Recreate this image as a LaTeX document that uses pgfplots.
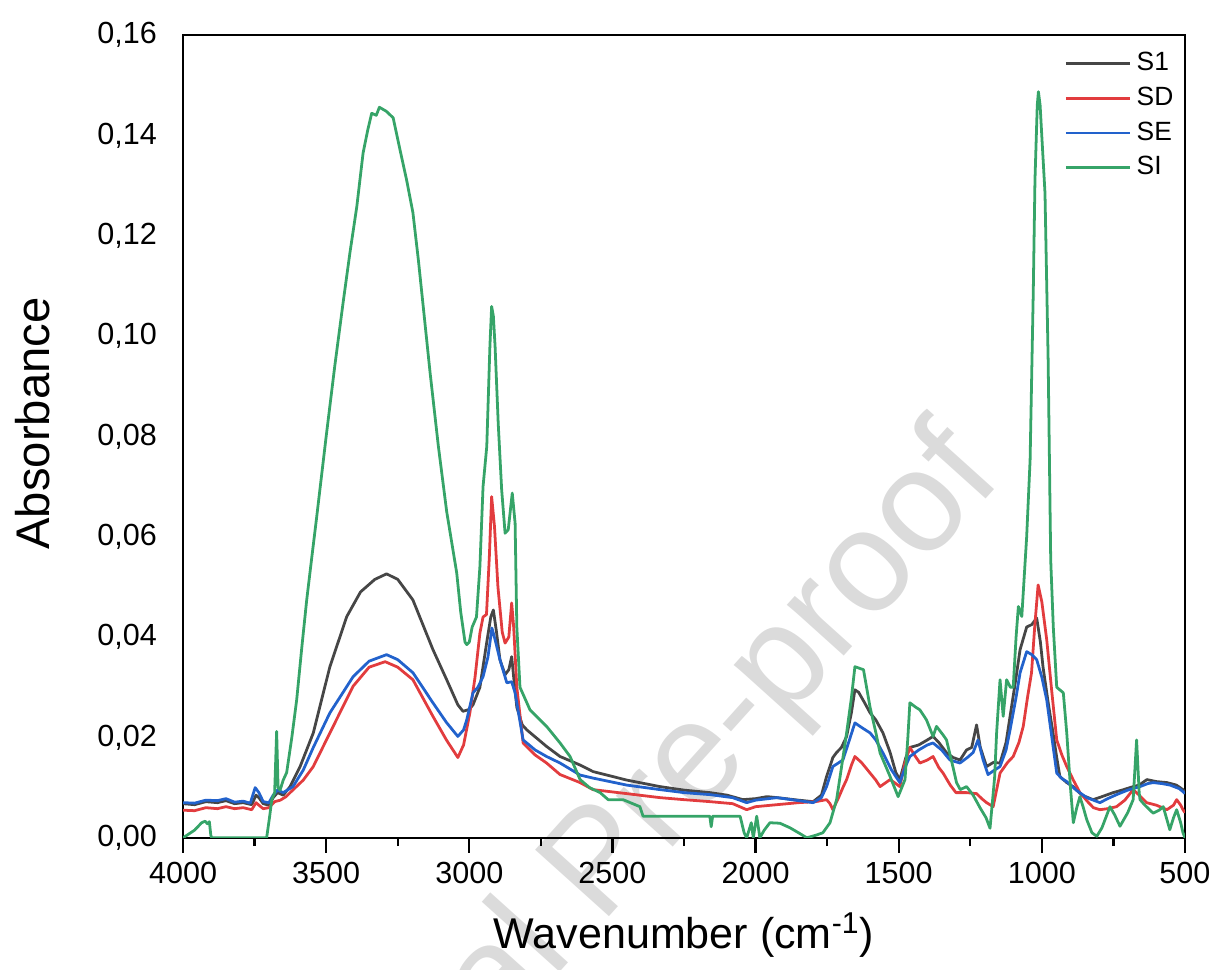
\documentclass[border=0pt]{standalone}
\usepackage{fontspec}
\setmainfont{Liberation Sans}
\usepackage{pgfplots}
\pgfplotsset{compat=1.18}
\definecolor{cS1}{RGB}{70,70,70}
\definecolor{cSD}{RGB}{226,60,62}
\definecolor{cSE}{RGB}{34,98,204}
\definecolor{cSI}{RGB}{54,164,104}
\begin{document}
\begin{tikzpicture}
\path[use as bounding box] (-65.9pt,-47.5pt) rectangle (371.5pt,301.6pt);
\node[rotate=48,anchor=base east,inner sep=0pt,text=gray!28,font=\fontsize{52}{56}\selectfont] at (295.9pt,129.6pt) {Journal Pre-proof};
\begin{axis}[
  at={(0pt,0pt)}, anchor=south west,
  scale only axis, width=360.7pt, height=289pt,
  x dir=reverse, xmin=500, xmax=4000, ymin=0, ymax=0.16,
  xtick={500,1000,...,4000}, minor x tick num=1,
  ytick={0,0.02,...,0.16},
  tick pos=left, tick align=outside,
  major tick length=5.4pt, minor tick length=3pt,
  ytick style={draw=none},
  axis line style={line width=0.8pt},
  every tick/.style={line width=0.8pt, black},
  /pgf/number format/assume math mode=true,
  x tick label style={font=\fontsize{11}{13}\selectfont, /pgf/number format/.cd, fixed, 1000 sep={}},
  y tick label style={font=\fontsize{11}{13}\selectfont, xshift=-0.5pt, /pgf/number format/.cd, fixed, fixed zerofill, precision=2, use comma},
  scaled y ticks=false,
  xlabel={Wavenumber (cm\textsuperscript{-1})},
  ylabel={Absorbance},
  xlabel style={font=\fontsize{15.5}{18}\selectfont, at={(axis description cs:0.5,-0.121)}, anchor=center},
  ylabel style={font=\fontsize{17}{20}\selectfont, at={(axis description cs:-0.1497,0.516)}, anchor=center, rotate=0},
  legend style={at={(axis description cs:1,0.995)}, xshift=-2pt, yshift=-2.5pt, anchor=north east, draw=none, fill=none, inner sep=0pt, font=\fontsize{9.5}{11}\selectfont, row sep=0.4pt},
  legend cell align=left,
  legend image code/.code={\draw[#1] (0pt,0pt) -- (23pt,0pt);},
  every axis plot/.append style={line width=1pt, line join=round},
]
\addplot[cS1] coordinates {
(4000,0.0068)(3960,0.0066)(3920,0.0072)(3880,0.0070)(3850,0.0074)(3820,0.0068)(3790,0.0070)(3760,0.0066)(3745,0.0085)(3735,0.0080)(3720,0.0068)(3700,0.0065)(3685,0.0080)(3670,0.0090)(3650,0.0085)(3626,0.0102)(3591,0.0142)(3545,0.0209)(3487,0.0341)(3428,0.0441)(3380,0.0490)(3330,0.0515)(3289,0.0526)(3250,0.0515)(3197,0.0474)(3127,0.0375)(3079,0.0315)(3040,0.0265)(3022,0.0252)(3000,0.0256)(2987,0.0265)(2963,0.0300)(2939,0.0390)(2925,0.0440)(2916,0.0454)(2905,0.0410)(2893,0.0355)(2875,0.0325)(2862,0.0335)(2852,0.0361)(2845,0.0320)(2834,0.0260)(2815,0.0225)(2799,0.0215)(2730,0.0182)(2683,0.0162)(2613,0.0145)(2568,0.0132)(2450,0.0115)(2334,0.0102)(2250,0.0095)(2159,0.0090)(2100,0.0085)(2044,0.0076)(2000,0.0078)(1960,0.0082)(1925,0.0080)(1850,0.0075)(1799,0.0072)(1770,0.0085)(1752,0.0122)(1730,0.0160)(1717,0.0170)(1700,0.0180)(1682,0.0202)(1665,0.0250)(1653,0.0295)(1640,0.0290)(1620,0.0270)(1600,0.0249)(1580,0.0235)(1555,0.0209)(1530,0.0170)(1510,0.0130)(1496,0.0116)(1475,0.0160)(1461,0.0180)(1430,0.0185)(1400,0.0195)(1380,0.0202)(1360,0.0190)(1332,0.0169)(1310,0.0160)(1286,0.0155)(1263,0.0175)(1245,0.0180)(1228,0.0225)(1215,0.0180)(1193,0.0142)(1170,0.0150)(1146,0.0149)(1125,0.0190)(1111,0.0242)(1090,0.0320)(1076,0.0375)(1053,0.0420)(1035,0.0425)(1018,0.0438)(1005,0.0390)(996,0.0341)(978,0.0270)(961,0.0209)(948,0.0160)(937,0.0122)(913,0.0110)(891,0.0102)(860,0.0085)(821,0.0076)(790,0.0082)(751,0.0090)(720,0.0095)(681,0.0102)(660,0.0105)(633,0.0116)(600,0.0112)(563,0.0110)(530,0.0105)(507,0.0096)(500,0.0090)
};
\addlegendentry{S1}
\addplot[cSD] coordinates {
(4000,0.0055)(3960,0.0054)(3920,0.0060)(3880,0.0058)(3850,0.0062)(3820,0.0058)(3790,0.0060)(3760,0.0056)(3745,0.0070)(3735,0.0065)(3720,0.0058)(3700,0.0060)(3680,0.0072)(3660,0.0075)(3640,0.0082)(3626,0.0090)(3580,0.0115)(3545,0.0142)(3487,0.0209)(3406,0.0302)(3350,0.0340)(3294,0.0351)(3250,0.0340)(3197,0.0315)(3127,0.0242)(3080,0.0195)(3040,0.0160)(3020,0.0185)(2998,0.0249)(2980,0.0320)(2963,0.0408)(2952,0.0440)(2940,0.0445)(2930,0.0560)(2922,0.0680)(2912,0.0620)(2900,0.0500)(2885,0.0410)(2875,0.0388)(2862,0.0400)(2852,0.0468)(2845,0.0420)(2834,0.0300)(2812,0.0189)(2770,0.0165)(2730,0.0149)(2683,0.0126)(2613,0.0110)(2568,0.0096)(2450,0.0088)(2334,0.0080)(2250,0.0076)(2159,0.0072)(2080,0.0068)(2031,0.0056)(2000,0.0062)(1925,0.0066)(1850,0.0070)(1790,0.0072)(1752,0.0076)(1740,0.0068)(1730,0.0056)(1710,0.0080)(1695,0.0100)(1682,0.0116)(1665,0.0145)(1653,0.0162)(1630,0.0150)(1600,0.0129)(1580,0.0115)(1565,0.0102)(1545,0.0110)(1530,0.0116)(1510,0.0108)(1496,0.0102)(1478,0.0150)(1461,0.0180)(1445,0.0165)(1426,0.0149)(1400,0.0155)(1380,0.0162)(1360,0.0140)(1345,0.0129)(1320,0.0105)(1300,0.0090)(1263,0.0090)(1228,0.0088)(1210,0.0078)(1193,0.0070)(1170,0.0062)(1160,0.0090)(1146,0.0129)(1120,0.0150)(1100,0.0162)(1080,0.0190)(1065,0.0222)(1050,0.0280)(1036,0.0329)(1025,0.0420)(1013,0.0504)(1000,0.0470)(983,0.0395)(965,0.0290)(948,0.0195)(930,0.0165)(913,0.0142)(890,0.0115)(867,0.0090)(840,0.0072)(820,0.0060)(797,0.0056)(770,0.0058)(739,0.0062)(710,0.0075)(681,0.0096)(660,0.0085)(634,0.0070)(600,0.0065)(563,0.0056)(540,0.0065)(529,0.0076)(515,0.0065)(507,0.0056)(500,0.0050)
};
\addlegendentry{SD}
\addplot[cSE] coordinates {
(4000,0.0070)(3960,0.0069)(3920,0.0075)(3880,0.0074)(3850,0.0078)(3820,0.0071)(3790,0.0073)(3765,0.0069)(3748,0.0100)(3735,0.0090)(3720,0.0072)(3700,0.0070)(3685,0.0085)(3670,0.0095)(3650,0.0090)(3616,0.0102)(3580,0.0135)(3545,0.0180)(3487,0.0249)(3406,0.0321)(3350,0.0352)(3289,0.0365)(3250,0.0355)(3197,0.0329)(3127,0.0269)(3080,0.0230)(3040,0.0202)(3020,0.0215)(3009,0.0235)(2987,0.0289)(2970,0.0300)(2952,0.0321)(2935,0.0360)(2921,0.0418)(2910,0.0395)(2893,0.0355)(2869,0.0309)(2852,0.0311)(2840,0.0289)(2812,0.0195)(2770,0.0175)(2730,0.0162)(2683,0.0149)(2613,0.0125)(2568,0.0119)(2450,0.0105)(2334,0.0096)(2250,0.0090)(2159,0.0086)(2080,0.0080)(2031,0.0070)(2000,0.0075)(1925,0.0080)(1850,0.0074)(1799,0.0070)(1770,0.0080)(1752,0.0102)(1730,0.0142)(1695,0.0155)(1675,0.0190)(1653,0.0229)(1630,0.0220)(1600,0.0209)(1580,0.0195)(1555,0.0169)(1525,0.0135)(1496,0.0110)(1478,0.0140)(1461,0.0162)(1430,0.0175)(1400,0.0185)(1380,0.0189)(1350,0.0175)(1321,0.0155)(1286,0.0149)(1260,0.0160)(1240,0.0170)(1223,0.0195)(1205,0.0155)(1188,0.0126)(1165,0.0135)(1146,0.0142)(1125,0.0175)(1111,0.0215)(1090,0.0280)(1076,0.0329)(1053,0.0371)(1035,0.0365)(1018,0.0355)(1000,0.0320)(983,0.0275)(965,0.0200)(948,0.0129)(930,0.0118)(913,0.0112)(880,0.0095)(843,0.0080)(797,0.0070)(770,0.0078)(739,0.0086)(700,0.0095)(657,0.0102)(630,0.0108)(611,0.0110)(580,0.0108)(552,0.0105)(520,0.0098)(507,0.0092)(500,0.0088)
};
\addlegendentry{SE}
\addplot[cSI] coordinates {
(4000,0.0000)(3960,0.0015)(3935,0.0030)(3923,0.0033)(3915,0.0028)(3908,0.0032)(3903,0.0005)(3900,0.0000)(3708,0.0000)(3698,0.0040)(3690,0.0076)(3680,0.0090)(3673,0.0212)(3668,0.0100)(3661,0.0095)(3650,0.0115)(3638,0.0130)(3620,0.0200)(3603,0.0275)(3585,0.0380)(3568,0.0474)(3550,0.0560)(3533,0.0640)(3500,0.0800)(3470,0.0940)(3441,0.1066)(3417,0.1166)(3393,0.1258)(3371,0.1365)(3355,0.1410)(3341,0.1444)(3325,0.1440)(3314,0.1456)(3290,0.1448)(3266,0.1435)(3242,0.1371)(3219,0.1311)(3197,0.1246)(3178,0.1152)(3161,0.1059)(3137,0.0927)(3108,0.0780)(3079,0.0650)(3044,0.0528)(3030,0.0450)(3015,0.0390)(3009,0.0385)(3000,0.0390)(2990,0.0420)(2975,0.0440)(2963,0.0540)(2952,0.0700)(2939,0.0780)(2928,0.0980)(2922,0.1059)(2916,0.1040)(2910,0.0980)(2899,0.0826)(2887,0.0694)(2875,0.0607)(2864,0.0614)(2850,0.0687)(2840,0.0627)(2834,0.0420)(2823,0.0300)(2788,0.0255)(2730,0.0222)(2683,0.0189)(2648,0.0162)(2613,0.0116)(2580,0.0100)(2543,0.0090)(2515,0.0076)(2463,0.0076)(2404,0.0062)(2393,0.0043)(2160,0.0043)(2155,0.0022)(2150,0.0043)(2054,0.0043)(2040,0.0010)(2031,0.0000)(2015,0.0030)(2008,0.0000)(1996,0.0043)(1985,0.0000)(1970,0.0015)(1950,0.0030)(1915,0.0029)(1880,0.0020)(1850,0.0010)(1821,0.0000)(1790,0.0005)(1765,0.0010)(1740,0.0030)(1717,0.0076)(1700,0.0140)(1682,0.0209)(1665,0.0280)(1653,0.0341)(1623,0.0335)(1600,0.0260)(1580,0.0210)(1565,0.0169)(1530,0.0122)(1502,0.0082)(1478,0.0116)(1468,0.0200)(1461,0.0269)(1440,0.0260)(1426,0.0255)(1403,0.0235)(1380,0.0202)(1368,0.0222)(1345,0.0205)(1333,0.0195)(1310,0.0140)(1298,0.0110)(1285,0.0096)(1263,0.0102)(1240,0.0085)(1216,0.0060)(1195,0.0040)(1181,0.0019)(1165,0.0120)(1158,0.0209)(1146,0.0315)(1135,0.0242)(1123,0.0315)(1110,0.0300)(1100,0.0300)(1090,0.0400)(1082,0.0461)(1070,0.0441)(1053,0.0600)(1041,0.0753)(1030,0.1086)(1024,0.1311)(1016,0.1460)(1012,0.1487)(1006,0.1460)(1002,0.1418)(989,0.1285)(978,0.0953)(969,0.0554)(960,0.0420)(948,0.0300)(925,0.0289)(913,0.0209)(900,0.0100)(890,0.0030)(878,0.0060)(867,0.0082)(855,0.0060)(843,0.0036)(825,0.0010)(808,0.0003)(790,0.0020)(762,0.0062)(745,0.0045)(727,0.0023)(700,0.0050)(681,0.0076)(669,0.0195)(660,0.0090)(657,0.0076)(640,0.0065)(611,0.0049)(590,0.0055)(576,0.0062)(553,0.0016)(540,0.0040)(529,0.0056)(515,0.0030)(507,0.0010)(500,0.0000)
};
\addlegendentry{SI}
\end{axis}
\end{tikzpicture}
\end{document}
